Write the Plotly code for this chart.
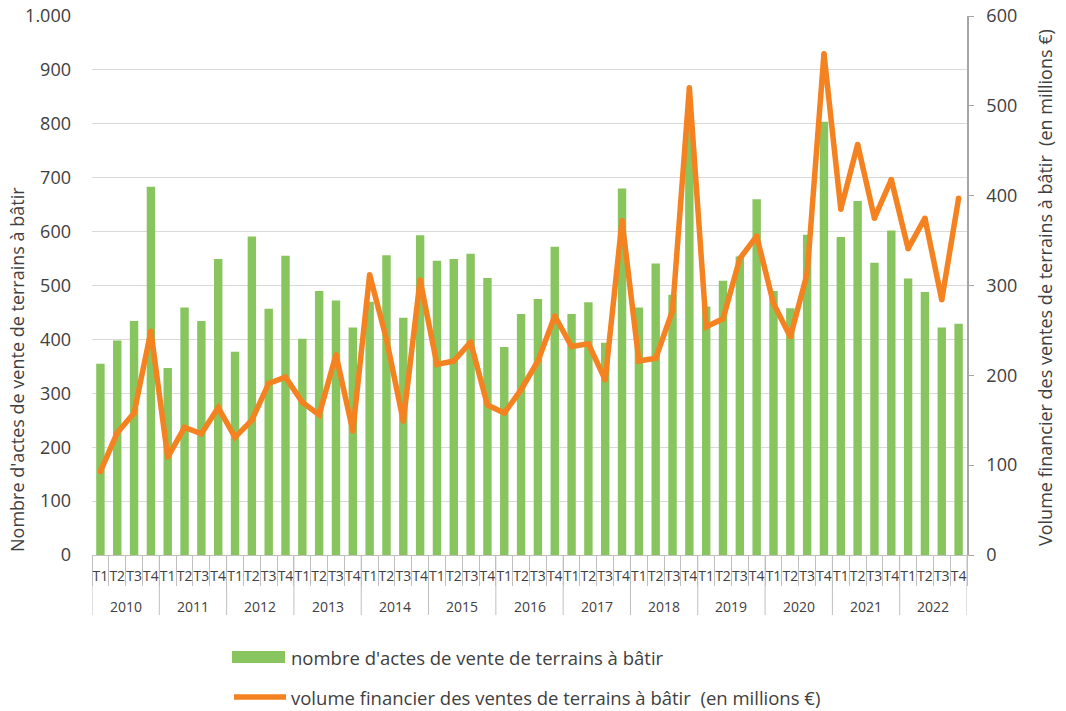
import plotly.graph_objects as go

annees = [str(a) for a in range(2010, 2023)]
trimestres = ["T1", "T2", "T3", "T4"]

# nombre d'actes de vente (axe gauche)
nb_actes = [355, 398, 434, 683,
            347, 459, 434, 549,
            377, 591, 457, 555,
            401, 490, 472, 422,
            470, 556, 440, 593,
            546, 549, 559, 514,
            386, 447, 475, 572,
            447, 469, 394, 680,
            459, 541, 483, 800,
            461, 509, 554, 660,
            490, 458, 594, 804,
            590, 657, 542, 602,
            513, 488, 422, 429]

# volume financier en millions € (axe droit)
volume = [93, 136, 158, 249,
          109, 142, 135, 164,
          131, 150, 191, 198,
          170, 156, 223, 138,
          312, 240, 149, 306,
          212, 216, 237, 167,
          158, 184, 216, 266,
          232, 235, 195, 372,
          216, 219, 272, 520,
          254, 263, 330, 355,
          280, 243, 313, 558,
          385, 457, 375, 418,
          341, 375, 284, 397]

nom_barres = "nombre d'actes de vente de terrains à bâtir"
nom_ligne = "volume financier des ventes de terrains à bâtir \u00a0(en millions €)"
titre_y = "Nombre d'actes de vente de terrains à bâtir"
titre_y2 = "Volume financier des ventes de terrains à bâtir \u00a0(en millions €)"

VERT = "#88C55E"
ORANGE = "#F58220"
GRIS = "#404040"
GRIS_AXE = "#bfbfbf"

# position de chaque trimestre sur l'axe x
idx = list(range(len(annees) * len(trimestres)))
labels_x = [t for a in annees for t in trimestres]

# zone de tracé 875 x 539 px (x de 92 à 967, y de 16 à 555)
W, H = 875.0, 539.0


def py(px):
    return (555 - px) / H


def px_x(px):
    return (px - 92) / W


fig = go.Figure()
fig.add_trace(go.Bar(
    x=idx, y=nb_actes,
    name=nom_barres,
    marker=dict(color=VERT, line=dict(width=0)),
    yaxis="y",
    hoverinfo="y",
))
fig.add_trace(go.Scatter(
    x=idx, y=volume,
    name=nom_ligne,
    mode="lines+markers",
    line=dict(color=ORANGE, width=5.5),
    marker=dict(color=ORANGE, size=5.5),
    yaxis="y2",
    hoverinfo="y",
))

fig.update_layout(
    width=1066, height=711,
    margin=dict(l=92, r=99, t=16, b=156, autoexpand=False),
    paper_bgcolor="white", plot_bgcolor="white",
    font=dict(family="Open Sans", size=15, color=GRIS),
    separators=",.",
    bargap=0.5,
    showlegend=False,
    xaxis=dict(
        range=[-0.5, len(idx) - 0.5],
        tickmode="array", tickvals=idx, ticktext=labels_x,
        tickangle=0,
        showline=True, linecolor=GRIS_AXE, linewidth=1,
        ticks="", ticklabelstandoff=8,
        minor=dict(tickmode="array",
                   tickvals=[i - 0.5 for i in range(len(idx) + 1)],
                   ticks="outside", ticklen=30, tickcolor=GRIS_AXE, tickwidth=1,
                   showgrid=False),
        tickfont=dict(size=14, color=GRIS),
        showgrid=False, zeroline=False,
        automargin=False,
    ),
    yaxis=dict(
        range=[0, 1000], dtick=100,
        tickformat=",d",
        showgrid=True, gridcolor="#d9d9d9", gridwidth=1,
        zeroline=False, showline=False,
        tickfont=dict(size=18, color=GRIS),
        ticks="", ticklabelstandoff=20,
        automargin=False,
    ),
    yaxis2=dict(
        range=[0, 600], dtick=100,
        overlaying="y", side="right",
        showgrid=False, zeroline=False,
        showline=True, linecolor="#a6a6a6", linewidth=1.5,
        ticks="outside", ticklen=5, tickcolor="#a6a6a6",
        ticklabelstandoff=9,
        tickfont=dict(size=18, color=GRIS),
        automargin=False,
    ),
)

# séparateurs et libellés des années
for i, a in enumerate(annees):
    fig.add_shape(type="line", xref="x", yref="paper",
                  x0=4 * i - 0.5, x1=4 * i - 0.5, y0=0, y1=py(615),
                  line=dict(color=GRIS_AXE, width=1))
    fig.add_annotation(text=a, xref="x", yref="paper",
                       x=4 * i + 1.5, y=py(606), yanchor="middle",
                       showarrow=False, font=dict(size=14, color=GRIS))
fig.add_shape(type="line", xref="x", yref="paper",
              x0=len(idx) - 0.5, x1=len(idx) - 0.5, y0=0, y1=py(615),
              line=dict(color=GRIS_AXE, width=1))

# titres des axes
fig.add_annotation(text=titre_y, xref="paper", yref="paper",
                   x=px_x(17), y=py(370), xanchor="center", yanchor="middle",
                   textangle=-90, showarrow=False, font=dict(size=18, color=GRIS))
fig.add_annotation(text=titre_y2, xref="paper", yref="paper",
                   x=px_x(1045), y=py(288), xanchor="center", yanchor="middle",
                   textangle=-90, showarrow=False, font=dict(size=18, color=GRIS))

# légende
fig.add_shape(type="rect", xref="paper", yref="paper",
              x0=px_x(232), x1=px_x(285), y0=py(651), y1=py(663),
              fillcolor=VERT, line=dict(width=0))
fig.add_annotation(text=nom_barres, xref="paper", yref="paper",
                   x=px_x(289), y=py(657), xanchor="left", yanchor="middle",
                   showarrow=False, font=dict(size=18.5, color=GRIS))
fig.add_shape(type="line", xref="paper", yref="paper",
              x0=px_x(234), x1=px_x(286), y0=py(697), y1=py(697),
              line=dict(color=ORANGE, width=5.5))
fig.add_annotation(text=nom_ligne, xref="paper", yref="paper",
                   x=px_x(289), y=py(697), xanchor="left", yanchor="middle",
                   showarrow=False, font=dict(size=18.5, color=GRIS))

# la page n'ajoute pas de marge autour de la figure
fig.write_html("out.html",
               config={"displayModeBar": False},
               post_script="document.body.style.margin='0';"
                           "document.body.style.overflow='hidden';")
